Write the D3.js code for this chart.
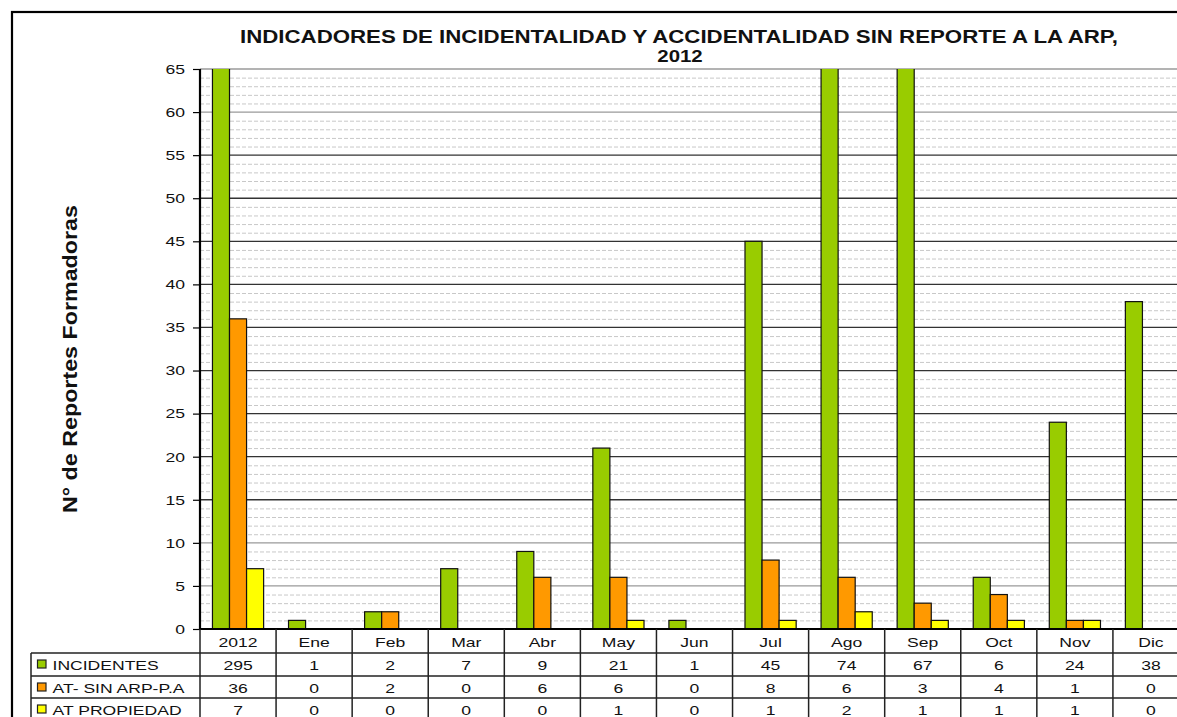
<!DOCTYPE html>
<html>
<head>
<meta charset="utf-8">
<script src="https://cdn.jsdelivr.net/npm/d3@7"></script>
<style>
  html, body { margin: 0; padding: 0; background: #fff; overflow: hidden; }
  svg { display: block; font-family: "Liberation Sans", Arial, sans-serif; }
</style>
</head>
<body>
<svg id="chart" width="1177" height="717"></svg>
<script>
// ---- data ----
const categories = ["2012","Ene","Feb","Mar","Abr","May","Jun","Jul","Ago","Sep","Oct","Nov","Dic"];
const seriesNames = ["INCIDENTES","AT- SIN ARP-P.A","AT PROPIEDAD"];
const seriesColors = ["#99CC00","#FF9900","#FFFF00"];
const incidentes  = [295,1,2,7,9,21,1,45,74,67,6,24,38];
const atSinArp    = [36,0,2,0,6,6,0,8,6,3,4,1,0];
const atPropiedad = [7,0,0,0,0,1,0,1,2,1,1,1,0];
const yTicks = [0,5,10,15,20,25,30,35,40,45,50,55,60,65];
const titleLines = ["INDICADORES DE INCIDENTALIDAD Y ACCIDENTALIDAD SIN REPORTE A LA ARP,", "2012"];
const yLabel = "N° de Reportes Formadoras";

const seriesValues = [incidentes, atSinArp, atPropiedad];

// ---- layout ----
const svg = d3.select("#chart");
const plotL = 200, plotR = 1189, plotT = 69, plotB = 629;
const rowH = [24, 23, 22, 22];
const legendL = 31;
const FS = 13.5, K = 1.3;

function stretch(sel, k) {
  sel.each(function () {
    const w = this.getComputedTextLength();
    d3.select(this).attr("textLength", w * k).attr("lengthAdjust", "spacingAndGlyphs");
  });
}

const x0 = d3.scaleBand().domain(categories).range([plotL, plotR]).paddingInner(0).paddingOuter(0);
const x1 = d3.scaleBand().domain(d3.range(3)).range([0, x0.bandwidth()]).paddingInner(0).paddingOuter(0.73);
const y = d3.scaleLinear().domain([0, 65]).range([plotB, plotT]);

// outer frame
svg.append("rect").attr("x", 12).attr("y", 12).attr("width", 1200).attr("height", 800)
  .attr("fill", "none").attr("stroke", "#000").attr("stroke-width", 2.2);

// minor dashed gridlines
const minor = d3.range(1, 65).filter(v => v % 5 !== 0);
svg.append("g").selectAll("line").data(minor).join("line")
  .attr("x1", plotL).attr("x2", plotR)
  .attr("y1", d => y(d) + 0.5).attr("y2", d => y(d) + 0.5)
  .attr("stroke", "#c8c8c8").attr("stroke-width", 1).attr("stroke-dasharray", "4,2");

// major gridlines
svg.append("g").selectAll("line").data(yTicks.filter(v => v > 0)).join("line")
  .attr("x1", plotL).attr("x2", plotR)
  .attr("y1", d => y(d)).attr("y2", d => y(d))
  .attr("stroke", d => (d >= 60 || d <= 10) ? "#9a9a9a" : "#333")
  .attr("stroke-width", 1.3);

// bars
svg.append("defs").append("clipPath").attr("id", "plotclip")
  .append("rect").attr("x", plotL).attr("y", plotT).attr("width", plotR - plotL).attr("height", plotB - plotT);

const barData = [];
categories.forEach((c, i) => {
  seriesValues.forEach((arr, s) => {
    if (arr[i] > 0) barData.push({ cat: c, s: s, v: arr[i] });
  });
});
svg.append("g").attr("clip-path", "url(#plotclip)")
  .selectAll("rect").data(barData).join("rect")
  .attr("x", d => x0(d.cat) + x1(d.s))
  .attr("width", x1.bandwidth())
  .attr("y", d => y(d.v))
  .attr("height", d => plotB - y(d.v))
  .attr("fill", d => seriesColors[d.s])
  .attr("stroke", "#111").attr("stroke-width", 1.2);

// y axis
const yAxis = d3.axisLeft(y).tickValues(yTicks).tickSize(7).tickPadding(8);
const gy = svg.append("g").attr("transform", `translate(${plotL},0)`).call(yAxis);
gy.select(".domain").remove();
gy.selectAll(".tick line").attr("stroke", "#000").attr("stroke-width", 1.2);
gy.selectAll(".tick text").attr("font-size", FS).attr("fill", "#111")
  .attr("font-family", "'Liberation Sans', Arial, sans-serif");
stretch(gy.selectAll(".tick text"), K);
svg.append("line").attr("x1", plotL).attr("x2", plotL).attr("y1", plotT).attr("y2", plotB)
  .attr("stroke", "#000").attr("stroke-width", 2.2);

// ---- data table ----
const rowTops = [plotB];
rowH.forEach((h, i) => rowTops.push(rowTops[i] + h));
const tbl = svg.append("g");
tbl.append("line").attr("x1", plotL - 1).attr("x2", plotR).attr("y1", plotB).attr("y2", plotB)
  .attr("stroke", "#000").attr("stroke-width", 2.2);
[rowTops[1], rowTops[2], rowTops[3]].forEach(yy => {
  tbl.append("line").attr("x1", legendL).attr("x2", plotR).attr("y1", yy).attr("y2", yy)
    .attr("stroke", "#222").attr("stroke-width", 1.5);
});
const colEdges = categories.map(c => x0(c));
tbl.selectAll("line.v").data(colEdges).join("line").attr("class", "v")
  .attr("x1", d => d).attr("x2", d => d).attr("y1", plotB).attr("y2", 717)
  .attr("stroke", "#222").attr("stroke-width", 1.5);
tbl.append("line").attr("x1", legendL).attr("x2", legendL).attr("y1", rowTops[1]).attr("y2", 717)
  .attr("stroke", "#222").attr("stroke-width", 1.5);

const hdr = tbl.selectAll("text.h").data(categories).join("text").attr("class", "h")
  .attr("x", d => x0(d) + x0.bandwidth() / 2)
  .attr("y", rowTops[0] + 17.5)
  .attr("text-anchor", "middle").attr("font-size", FS).attr("fill", "#111")
  .text(d => d);
stretch(hdr, K);

seriesValues.forEach((arr, s) => {
  const top = rowTops[s + 1];
  const t = tbl.append("g").selectAll("text").data(arr).join("text")
    .attr("x", (d, i) => x0(categories[i]) + x0.bandwidth() / 2)
    .attr("y", top + 16.5)
    .attr("text-anchor", "middle").attr("font-size", FS).attr("fill", "#111")
    .text(d => d);
  stretch(t, K);
  tbl.append("rect").attr("x", 37.5).attr("y", top + 7).attr("width", 8.5).attr("height", 8)
    .attr("fill", seriesColors[s]).attr("stroke", "#222").attr("stroke-width", 1.2);
  const lt = tbl.append("text").attr("x", 52.5).attr("y", top + 16.5)
    .attr("font-size", FS).attr("fill", "#111").text(seriesNames[s]);
  stretch(lt, K);
});

// title
svg.append("text").attr("x", 679).attr("y", 43).attr("text-anchor", "middle")
  .attr("font-size", 17.5).attr("font-weight", "bold").attr("fill", "#111")
  .attr("textLength", 878).attr("lengthAdjust", "spacingAndGlyphs")
  .text(titleLines[0]);
const t2 = svg.append("text").attr("x", 680).attr("y", 62).attr("text-anchor", "middle")
  .attr("font-size", 17).attr("font-weight", "bold").attr("fill", "#111")
  .text(titleLines[1]);
stretch(t2, 1.2);

// y label
svg.append("text")
  .attr("transform", "translate(77,359) rotate(-90)")
  .attr("text-anchor", "middle")
  .attr("font-size", 20.5).attr("font-weight", "bold").attr("fill", "#111")
  .attr("textLength", 308).attr("lengthAdjust", "spacingAndGlyphs")
  .text(yLabel);
</script>
</body>
</html>
